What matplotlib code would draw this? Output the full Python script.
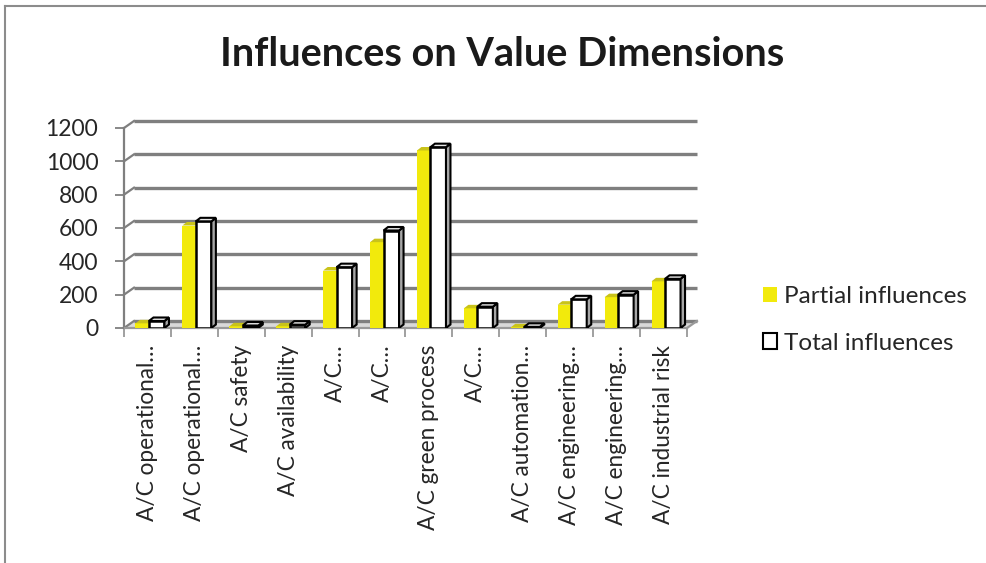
import numpy as np
import matplotlib
matplotlib.use("Agg")
import matplotlib.pyplot as plt
from matplotlib.patches import Polygon, Patch
from matplotlib.lines import Line2D

plt.rcParams["font.family"] = ["Lato", "DejaVu Sans"]

categories = [
    "A/C operational…", "A/C operational…", "A/C safety", "A/C availability",
    "A/C…", "A/C…", "A/C green process", "A/C…",
    "A/C automation…", "A/C engineering…", "A/C engineering…", "A/C industrial risk",
]
partial = [28, 615, 10, 10, 345, 515, 1065, 118, 4, 140, 185, 280]
total = [42, 640, 15, 20, 365, 585, 1085, 128, 7, 172, 200, 295]
yticks = [0, 200, 400, 600, 800, 1000, 1200]

W, H = 987, 563
fig = plt.figure(figsize=(W / 100, H / 100), dpi=100)
fig.patch.set_facecolor("white")

# front plane of the 3d box in pixels
left_px, right_px, bottom_px, top_px = 124, 687, 328, 128
ax = fig.add_axes([left_px / W, 1 - bottom_px / H,
                   (right_px - left_px) / W, (bottom_px - top_px) / H])
ax.set_xlim(-0.5, len(categories) - 0.5)
ax.set_ylim(0, 1200)
ax.patch.set_visible(False)
for s in ax.spines.values():
    s.set_visible(False)

# pixel -> data unit factors
ux = (len(categories)) / (right_px - left_px)
uy = 1200 / (bottom_px - top_px)

grid_c = "#7f7f7f"
# back wall offset
bdx, bdy = 10 * ux, 7 * uy
x0, x1 = -0.5, len(categories) - 0.5

# floor
floor = Polygon([(x0, 0), (x1, 0), (x1 + bdx, bdy), (x0 + bdx, bdy)],
                closed=True, facecolor="#d9d9d9", edgecolor="none", zorder=1, clip_on=False)
ax.add_patch(floor)
for v in yticks:
    ax.plot([x0 + bdx, x1 + bdx], [v + bdy, v + bdy], color=grid_c, lw=2.4,
            zorder=1, clip_on=False, solid_capstyle="butt")
    ax.plot([x0, x0 + bdx], [v, v + bdy], color=grid_c, lw=1.6, zorder=1, clip_on=False)
ax.plot([x0, x0], [0, 1200], color=grid_c, lw=1.6, zorder=1, clip_on=False)
ax.plot([x0, x1], [0, 0], color="#999999", lw=1.6, zorder=1.5, clip_on=False)
ax.plot([x1, x1 + bdx], [0, bdy], color="#999999", lw=1.6, zorder=1.5, clip_on=False)

# bars
x = np.arange(len(categories))
yl, yw = -12 * ux, 13.5 * ux
wl, ww = 1.5 * ux, 15.5 * ux
ddx, ddy = 4.5 * ux, 3.5 * uy
yellow = "#f2ea0c"

ax.bar(x + yl, partial, width=yw, align="edge", color=yellow, edgecolor="none", zorder=2)
for xi, v in zip(x, partial):
    a = xi + yl
    ax.add_patch(Polygon([(a, v), (a + yw, v), (a + yw + ddx, v + ddy), (a + ddx, v + ddy)],
                         closed=True, facecolor="#c9c31a", edgecolor="none", zorder=2))

ax.bar(x + wl, total, width=ww, align="edge", color="white", edgecolor="black",
       linewidth=1.8, zorder=3)
for xi, v in zip(x, total):
    a = xi + wl
    b = a + ww
    ax.add_patch(Polygon([(b, 0), (b + ddx, ddy), (b + ddx, v + ddy), (b, v)],
                         closed=True, facecolor="#a6a6a6", edgecolor="black",
                         linewidth=1.5, zorder=3))
    ax.add_patch(Polygon([(a, v), (b, v), (b + ddx, v + ddy), (a + ddx, v + ddy)],
                         closed=True, facecolor="#e6e6e6", edgecolor="black",
                         linewidth=1.5, zorder=3.1))

# ticks
ax.set_yticks(yticks)
ax.set_yticklabels([str(v) for v in yticks], fontsize=16.5, color="#262626")
ax.tick_params(axis="y", length=6.5, width=1.3, color=grid_c, pad=12)
ax.set_xticks(x)
ax.set_xticklabels(categories, rotation=90, fontsize=16.3, color="#262626", va="top")
ax.tick_params(axis="x", which="major", length=0, pad=12)
ax.set_xticks(np.arange(len(categories) + 1) - 0.5, minor=True)
ax.tick_params(axis="x", which="minor", length=6.5, width=1.3, color="#999999")

# title
fig.text(502 / W, 1 - 55 / H, "Influences on Value Dimensions", ha="center", va="center",
         fontsize=28.5, fontweight="bold", color="#1a1a1a")

# legend
handles = [Patch(facecolor=yellow, edgecolor="none", label="Partial influences"),
           Patch(facecolor="white", edgecolor="black", linewidth=1.5, label="Total influences")]
fig.legend(handles=handles, loc="upper left", bbox_to_anchor=(763 / W, 1 - 286 / H),
           frameon=False, fontsize=17.5, borderpad=0, borderaxespad=0,
           handlelength=0.58, handleheight=0.58, handletextpad=0.28, labelspacing=1.05,
           labelcolor="#262626")

# chart area border (top and left visible)
fig.add_artist(Line2D([5 / W, 1], [1 - 6 / H, 1 - 6 / H], color="#8c8c8c", lw=1.5))
fig.add_artist(Line2D([5 / W, 5 / W], [0, 1 - 6 / H], color="#8c8c8c", lw=1.5))

fig.savefig("out.png", dpi=100)
